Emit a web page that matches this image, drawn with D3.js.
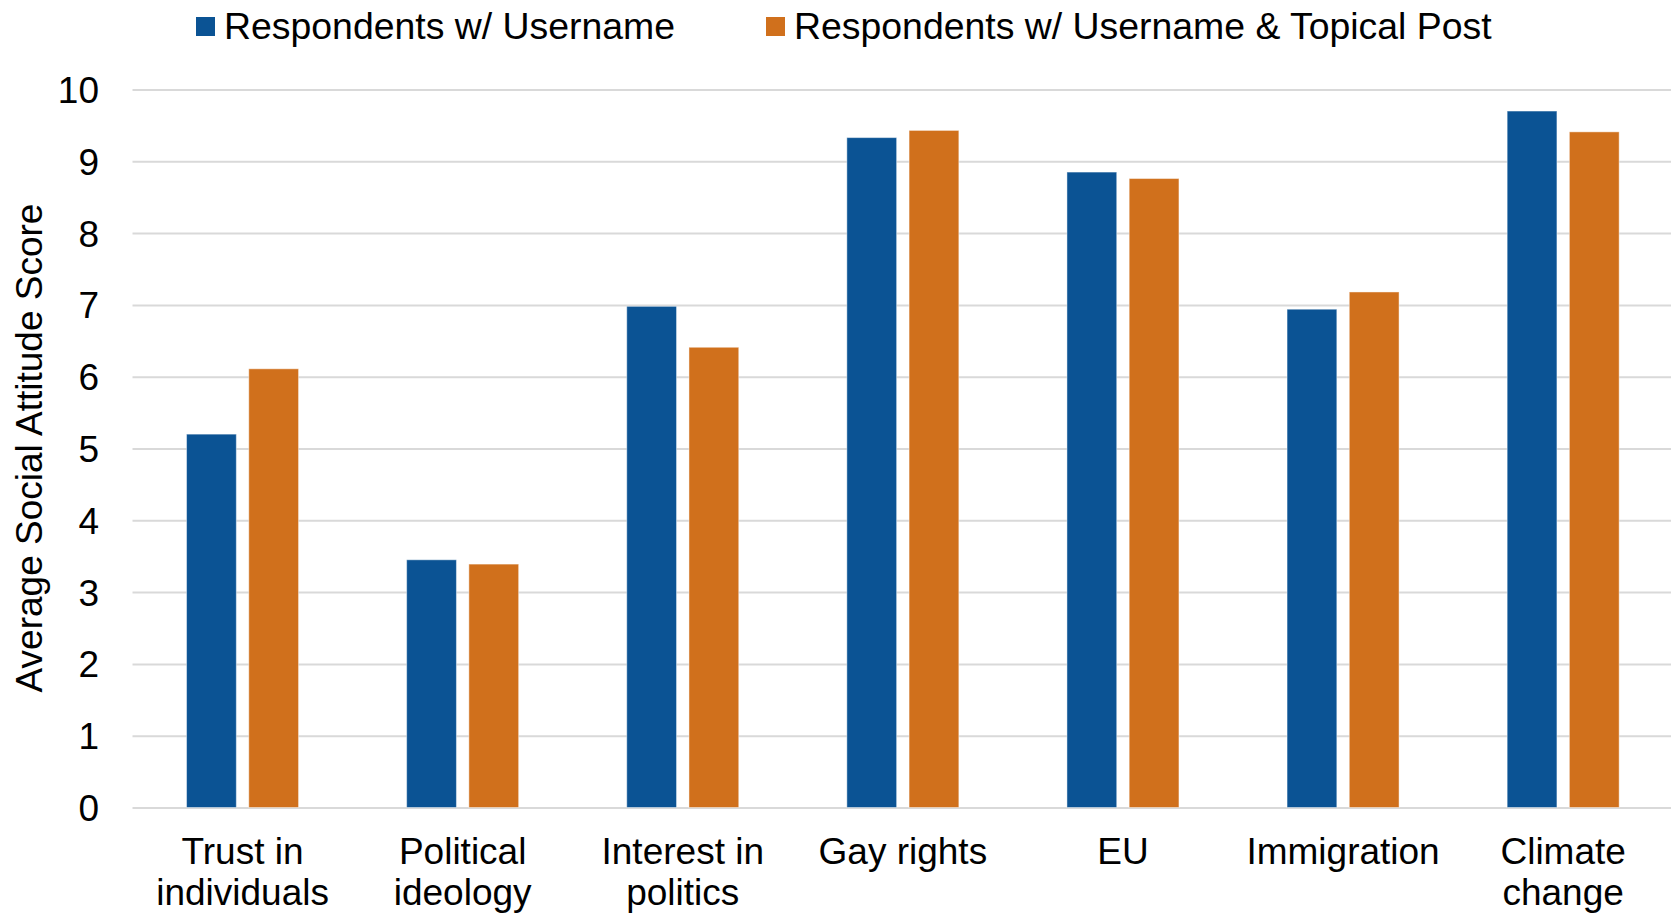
<!DOCTYPE html>
<html>
<head>
<meta charset="utf-8">
<script src="https://cdn.jsdelivr.net/npm/d3@7"></script>
<style>
  html, body { margin: 0; padding: 0; background: #ffffff; }
  svg { display: block; }
  text { font-family: "Liberation Sans", Arial, Helvetica, sans-serif; fill: #000; }
</style>
</head>
<body>
<svg id="chart" width="1671" height="914"></svg>
<script>
// Category labels (each entry is a list of lines)
const categories = [
  ["Trust in", "individuals"],
  ["Political", "ideology"],
  ["Interest in", "politics"],
  ["Gay rights"],
  ["EU"],
  ["Immigration"],
  ["Climate", "change"]
];
const seriesNames = ["Respondents w/ Username", "Respondents w/ Username & Topical Post"];
const usernameScores = [5.20, 3.45, 6.98, 9.33, 8.85, 6.94, 9.70];
const topicalPostScores = [6.11, 3.39, 6.41, 9.43, 8.76, 7.18, 9.41];
const yTicks = [0, 1, 2, 3, 4, 5, 6, 7, 8, 9, 10];
const yTitle = "Average Social Attitude Score";

const colors = ["#0B5394", "#D0701C"];

const svg = d3.select("#chart");
const plot = { left: 132.5, right: 1673.2, top: 89.5, bottom: 807.5 };
const catKeys = categories.map(c => c.join(" "));

const y = d3.scaleLinear().domain([0, 10]).range([plot.bottom, plot.top]);
const x0 = d3.scaleBand().domain(catKeys).range([plot.left, plot.right]).padding(0);
const x1 = d3.scaleBand().domain(seriesNames).range([-56, 56]).paddingInner(0.2);

// Gridlines and y tick labels
const yAxis = d3.axisLeft(y)
  .tickValues(yTicks)
  .tickFormat(d3.format("d"))
  .tickSizeInner(-(plot.right - plot.left))
  .tickSizeOuter(0)
  .tickPadding(33.5);

const gy = svg.append("g")
  .attr("transform", `translate(${plot.left},0)`)
  .call(yAxis);
gy.select(".domain").remove();
gy.selectAll(".tick line").attr("stroke", "#d9d9d9").attr("stroke-width", 2);
gy.selectAll(".tick text")
  .attr("font-size", 37)
  .attr("fill", "#000")
  .attr("dy", "0.35em")
  .style("font-family", "'Liberation Sans', Arial, sans-serif");

// Bars
const rows = catKeys.map((k, i) => ({
  key: k,
  values: [
    { series: seriesNames[0], value: usernameScores[i], color: colors[0] },
    { series: seriesNames[1], value: topicalPostScores[i], color: colors[1] }
  ]
}));

const groups = svg.append("g").selectAll("g")
  .data(rows)
  .join("g")
  .attr("transform", d => `translate(${x0(d.key) + x0.bandwidth() / 2},0)`);

groups.selectAll("rect")
  .data(d => d.values)
  .join("rect")
  .attr("x", d => x1(d.series))
  .attr("width", x1.bandwidth())
  .attr("y", d => y(d.value))
  .attr("height", d => y(0) - y(d.value))
  .attr("fill", d => d.color)
  .attr("stroke", "rgba(255,255,255,0.45)")
  .attr("stroke-width", 1);

// Category labels
const xAxis = d3.axisBottom(x0).tickSize(0).tickPadding(0);
const gx = svg.append("g")
  .attr("transform", `translate(0,${plot.bottom})`)
  .call(xAxis);
gx.select(".domain").remove();
gx.selectAll(".tick text").each(function(d, i) {
  const t = d3.select(this);
  t.text(null)
    .attr("y", 0)
    .attr("dy", null)
    .attr("font-size", 37)
    .attr("fill", "#000")
    .attr("text-anchor", "middle")
    .style("font-family", "'Liberation Sans', Arial, sans-serif");
  categories[i].forEach((line, j) => {
    t.append("tspan")
      .attr("x", 0)
      .attr("y", 56.5 + j * 41)
      .text(line);
  });
});

// Y axis title
svg.append("text")
  .attr("transform", `translate(42,448) rotate(-90)`)
  .attr("text-anchor", "middle")
  .attr("font-size", 37)
  .text(yTitle);

// Legend
const legendItems = [
  { name: seriesNames[0], color: colors[0], x: 196 },
  { name: seriesNames[1], color: colors[1], x: 766 }
];
const legend = svg.append("g");
legendItems.forEach(item => {
  legend.append("rect")
    .attr("x", item.x)
    .attr("y", 17)
    .attr("width", 19)
    .attr("height", 19)
    .attr("fill", item.color);
  legend.append("text")
    .attr("x", item.x + 28)
    .attr("y", 38.5)
    .attr("font-size", 37.4)
    .text(item.name);
});
</script>
</body>
</html>
